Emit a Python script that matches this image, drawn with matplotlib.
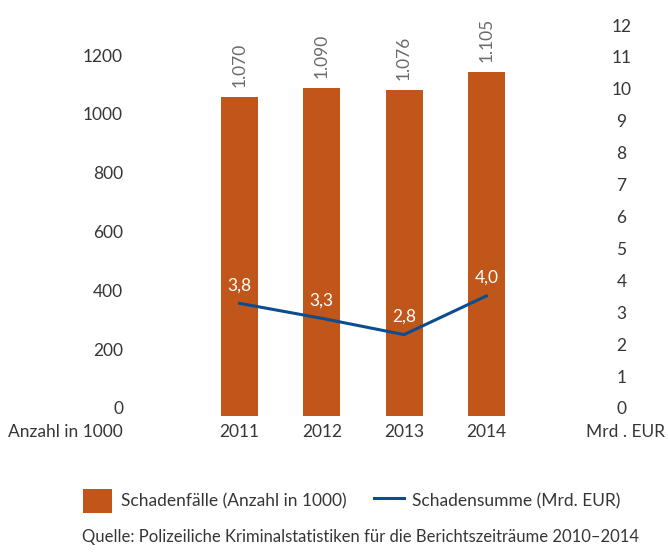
import matplotlib
matplotlib.use('Agg')
import matplotlib.pyplot as plt
from matplotlib.patches import Patch
from matplotlib.lines import Line2D
from matplotlib.transforms import ScaledTranslation

# Daten (Balkenhöhen / Linienwerte wie im Bild, Beschriftungen wie angegeben)
years = ['2011', '2012', '2013', '2014']
faelle = [1086, 1115, 1109, 1170]
faelle_labels = ['1.070', '1.090', '1.076', '1.105']
summe = [3.53, 3.06, 2.55, 3.76]
summe_labels = ['3,8', '3,3', '2,8', '4,0']
left_ticks = [0, 200, 400, 600, 800, 1000, 1200]
right_ticks = list(range(0, 13))

BAR_COLOR = '#C0561A'
LINE_COLOR = '#0D4C8F'
TEXT_COLOR = '#363636'

plt.rcParams['font.family'] = ['Lato', 'DejaVu Sans']

W, H = 668, 552
fig = plt.figure(figsize=(W / 100, H / 100), dpi=100)
ax = fig.add_axes([180 / W, 1 - 416 / H, (545 - 180) / W, (416 - 33) / H])
ax2 = ax.twinx()

x = list(range(len(years)))
ax.bar(x, faelle, width=0.45, color=BAR_COLOR, zorder=2)
ax.set_xlim(-0.725, 3.714)
ax.set_ylim(0, 1302)
ax2.set_ylim(0, 12)

ax2.plot(x, summe, color=LINE_COLOR, lw=2.2, zorder=3)

# Werte über den Balken
for xi, v, lab in zip(x, faelle, faelle_labels):
    ax.annotate(lab, (xi, v), xytext=(0, 7), textcoords='offset points',
                rotation=90, ha='center', va='bottom', fontsize=12.5,
                color='#6a6a6a')

# Werte an der Linie
for xi, v, lab in zip(x, summe, summe_labels):
    ax2.annotate(lab, (xi, v), xytext=(0, 13), textcoords='offset points',
                 ha='center', va='center', fontsize=12.5, color='white')

# Achsen
for a in (ax, ax2):
    for s in a.spines.values():
        s.set_visible(False)

ax.set_xticks(x)
ax.set_xticklabels(years)
ax.tick_params(axis='x', length=0, pad=6, labelsize=12.5, labelcolor=TEXT_COLOR)

ax.set_yticks(left_ticks)
ax.set_yticklabels([str(t) for t in left_ticks])
ax.tick_params(axis='y', length=0, pad=41, labelsize=12.5, labelcolor=TEXT_COLOR)

ax2.set_yticks(right_ticks)
ax2.set_yticklabels([str(t) for t in right_ticks])
ax2.tick_params(axis='y', length=0, pad=55, labelsize=12.5, labelcolor=TEXT_COLOR)

up = ScaledTranslation(0, 8 / 100, fig.dpi_scale_trans)
for lab in ax.get_yticklabels():
    lab.set_transform(lab.get_transform() + up)
for lab in ax2.get_yticklabels():
    lab.set_horizontalalignment('center')
    lab.set_transform(lab.get_transform() + up)

# Achsentitel unten
fig.text(123 / W, 1 - 432 / H, 'Anzahl in 1000', ha='right', va='center',
         fontsize=12.5, color=TEXT_COLOR)
fig.text(625 / W, 1 - 432 / H, 'Mrd . EUR', ha='center', va='center',
         fontsize=12.5, color=TEXT_COLOR)

# Legende
handles = [Patch(facecolor=BAR_COLOR, edgecolor='none'),
           Line2D([0], [0], color=LINE_COLOR, lw=2.2)]
fig.legend(handles, ['Schadenfälle (Anzahl in 1000)', 'Schadensumme (Mrd. EUR)'],
           loc='center left', bbox_to_anchor=(67 / W, 1 - 501 / H), ncol=2,
           frameon=False, fontsize=12.5, handlelength=1.7, handleheight=1.7,
           handletextpad=0.5, columnspacing=1.6, labelcolor=TEXT_COLOR)

fig.text(82 / W, 1 - 537 / H,
         'Quelle: Polizeiliche Kriminalstatistiken für die Berichtszeiträume 2010–2014',
         ha='left', va='center', fontsize=12, color=TEXT_COLOR)

fig.savefig('out.png', dpi=100)
